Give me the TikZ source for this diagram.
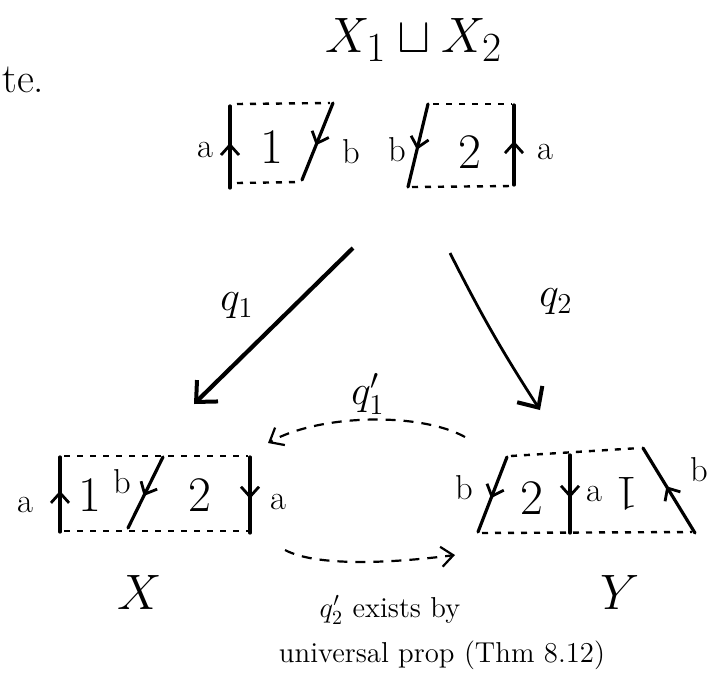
\documentclass[tikz,border=0pt]{standalone}
\usepackage{amsmath}
\usetikzlibrary{arrows.meta,decorations.markings}

\tikzset{
  glue/.style={line width=1.6pt, line cap=round, postaction={decorate},
    decoration={markings, mark=at position 0.55 with {\arrow{Straight Barb[length=5pt,width=9pt,line width=1.4pt]}}}},
  seam/.style={line width=1.2pt, dash pattern=on 3pt off 3.5pt},
  qmap/.style={line width=2.1pt, -{Straight Barb[length=8pt,width=15pt,line width=2pt]}},
  qdash/.style={line width=1.1pt, dash pattern=on 5pt off 4pt, -{Straight Barb[length=6pt,width=10pt]}},
  edgelbl/.style={font=\LARGE, inner sep=0pt},
  piece/.style={font=\Huge, inner sep=0pt},
}

\begin{document}
\begin{tikzpicture}[x=0.5pt, y=-0.5pt]
  \useasboundingbox (0,0) rectangle (719,687);

  % scrap of the previous page
  \node[font=\huge, inner sep=0pt, anchor=base west] (scrap) at (2,92) {te.};

  % X1 u X2
  \node[font=\Huge] (top) at (414,40) {$X_1 \sqcup X_2$};

  % square 1
  \draw[glue] (230,188) -- (230,106);
  \draw[seam] (237,104) -- (330,103);
  \draw[glue] (333,103) -- (302,180);
  \draw[seam] (237,183) -- (300,182);
  \node[edgelbl] (a1) at (205,150) {a};
  \node[piece] (one) at (272,147) {1};
  \node[edgelbl] (b1) at (351,152) {b};
  % square 2
  \draw[glue] (428,104) -- (408,187);
  \draw[seam] (433,104) -- (512,104);
  \draw[glue] (514,185) -- (514,105);
  \draw[seam] (412,187) -- (512,186);
  \node[edgelbl] (b2) at (397,150) {b};
  \node[piece] (two) at (470,152) {2};
  \node[edgelbl] (a2) at (545,152) {a};

  % X
  \draw[glue] (60,532) -- (60,457);
  \draw[seam] (64,456) -- (248,456);
  \draw[glue] (163,457) -- (128,528);
  \draw[glue] (250,457) -- (250,533);
  \draw[seam] (64,531) -- (248,531);
  \node[edgelbl] (xa1) at (25,505) {a};
  \node[piece] (x1) at (90,495) {1};
  \node[edgelbl] (xb) at (122,482) {b};
  \node[piece] (x2) at (200,495) {2};
  \node[edgelbl] (xa2) at (278,502) {a};
  \node[font=\Huge] (X) at (140,592) {$X$};

  % Y
  \draw[glue] (507,457) -- (478,532);
  \draw[seam] (511,456) -- (640,448);
  \draw[glue] (570,455) -- (570,533);
  \draw[glue] (695,533) -- (643,448);
  \draw[seam] (482,533) -- (692,532);
  \node[edgelbl] (yb1) at (464,488) {b};
  \node[piece] (y2) at (532,498) {2};
  \node[edgelbl] (ya) at (594,494) {a};
  \node[piece, rotate=180] (y1) at (627,494) {1};
  \node[edgelbl] (yb2) at (699,470) {b};
  \node[font=\Huge] (Y) at (620,592) {$Y$};

  % maps
  \coordinate (q1s) at (353,248);
  \coordinate (q1e) at (194,404);
  \coordinate (q2s) at (450,253);
  \coordinate (q2e) at (540,410);
  \draw[qmap] (q1s) -- (q1e);
  \draw[qmap, line width=1.4pt] (q2s) to[bend right=3] (q2e);
  \node[font=\huge] (q1) at (237,306) {$q_1$};
  \node[font=\huge] (q2) at (556,302) {$q_2$};

  % induced maps
  \coordinate (r1s) at (465,437);
  \coordinate (r1e) at (268,443);
  \coordinate (r2s) at (285,550);
  \coordinate (r2e) at (455,555);
  \draw[qdash] (r1s) .. controls (420,412) and (320,414) .. (r1e);
  \draw[qdash] (r2s) .. controls (315,566) and (385,564) .. (r2e);
  \node[font=\huge] (q1p) at (368,394) {$q_1'$};
  \node[font=\Large] (why1) at (390,610) {$q_2'$ exists by};
  \node[font=\Large] (why2) at (442,655) {universal prop (Thm 8.12)};
\end{tikzpicture}
\end{document}
